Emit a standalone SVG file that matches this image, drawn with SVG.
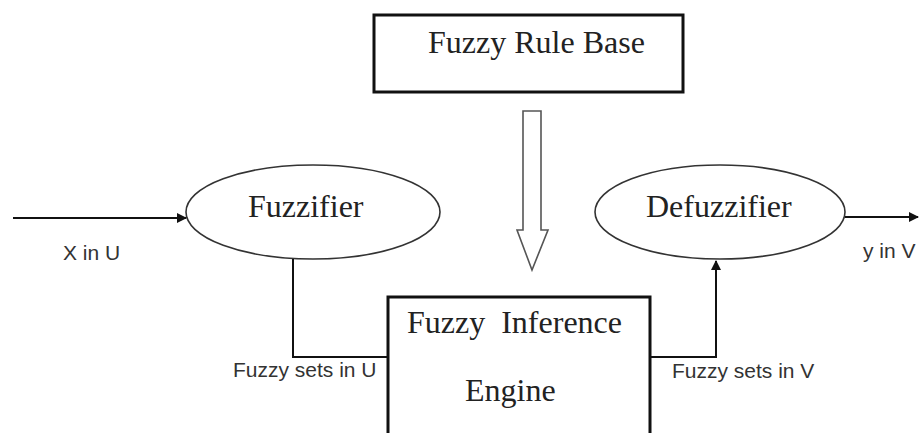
<svg xmlns="http://www.w3.org/2000/svg" width="919" height="433" viewBox="0 0 919 433">
  <defs>
    <marker id="ah" markerWidth="10" markerHeight="10" refX="9" refY="5" orient="auto" markerUnits="userSpaceOnUse">
      <path d="M0,0 L10,5 L0,10 Z" fill="#111"/>
    </marker>
    <style>
      .serif { font-family: "Liberation Serif", "Times New Roman", serif; font-size: 32px; fill: #222; }
      .sans { font-family: "Liberation Sans", Arial, sans-serif; font-size: 21px; fill: #333; }
      .box { fill: #fff; stroke: #111; stroke-width: 3; }
      .ell { fill: #fff; stroke: #333; stroke-width: 1.6; }
      .conn { fill: none; stroke: #111; stroke-width: 2; }
    </style>
  </defs>
  <rect width="919" height="433" fill="#fff"/>

  <g id="rule-base">
    <rect class="box" x="374" y="15" width="309" height="77"/>
    <text class="serif" x="428" y="53">Fuzzy Rule Base</text>
  </g>

  <g id="fuzzifier">
    <ellipse class="ell" cx="313" cy="212" rx="127" ry="47"/>
    <text class="serif" x="248" y="217">Fuzzifier</text>
  </g>

  <g id="defuzzifier">
    <ellipse class="ell" cx="720" cy="212" rx="125" ry="47"/>
    <text class="serif" x="646" y="217">Defuzzifier</text>
  </g>

  <g id="inference-engine">
    <rect class="box" x="388" y="297" width="262" height="150"/>
    <text class="serif" x="407" y="333" style="white-space:pre">Fuzzy  Inference</text>
    <text class="serif" x="465" y="401">Engine</text>
  </g>

  <g id="connectors">
    <path d="M523,111 L541,111 L541,230 L548,230 L532,270 L517,230 L523,230 Z" fill="#fff" stroke="#555" stroke-width="1.6"/>
    <line class="conn" x1="13" y1="218" x2="186" y2="218" marker-end="url(#ah)"/>
    <polyline class="conn" points="293,259 293,357 388,357"/>
    <polyline class="conn" points="650,357 716,357 716,261" marker-end="url(#ah)"/>
    <line class="conn" x1="845" y1="217" x2="918" y2="217" marker-end="url(#ah)"/>
  </g>

  <g id="labels">
    <text class="sans" x="63" y="260">X in U</text>
    <text class="sans" x="233" y="377">Fuzzy sets in U</text>
    <text class="sans" x="672" y="378">Fuzzy sets in V</text>
    <text class="sans" x="863" y="258">y in V</text>
  </g>
</svg>
